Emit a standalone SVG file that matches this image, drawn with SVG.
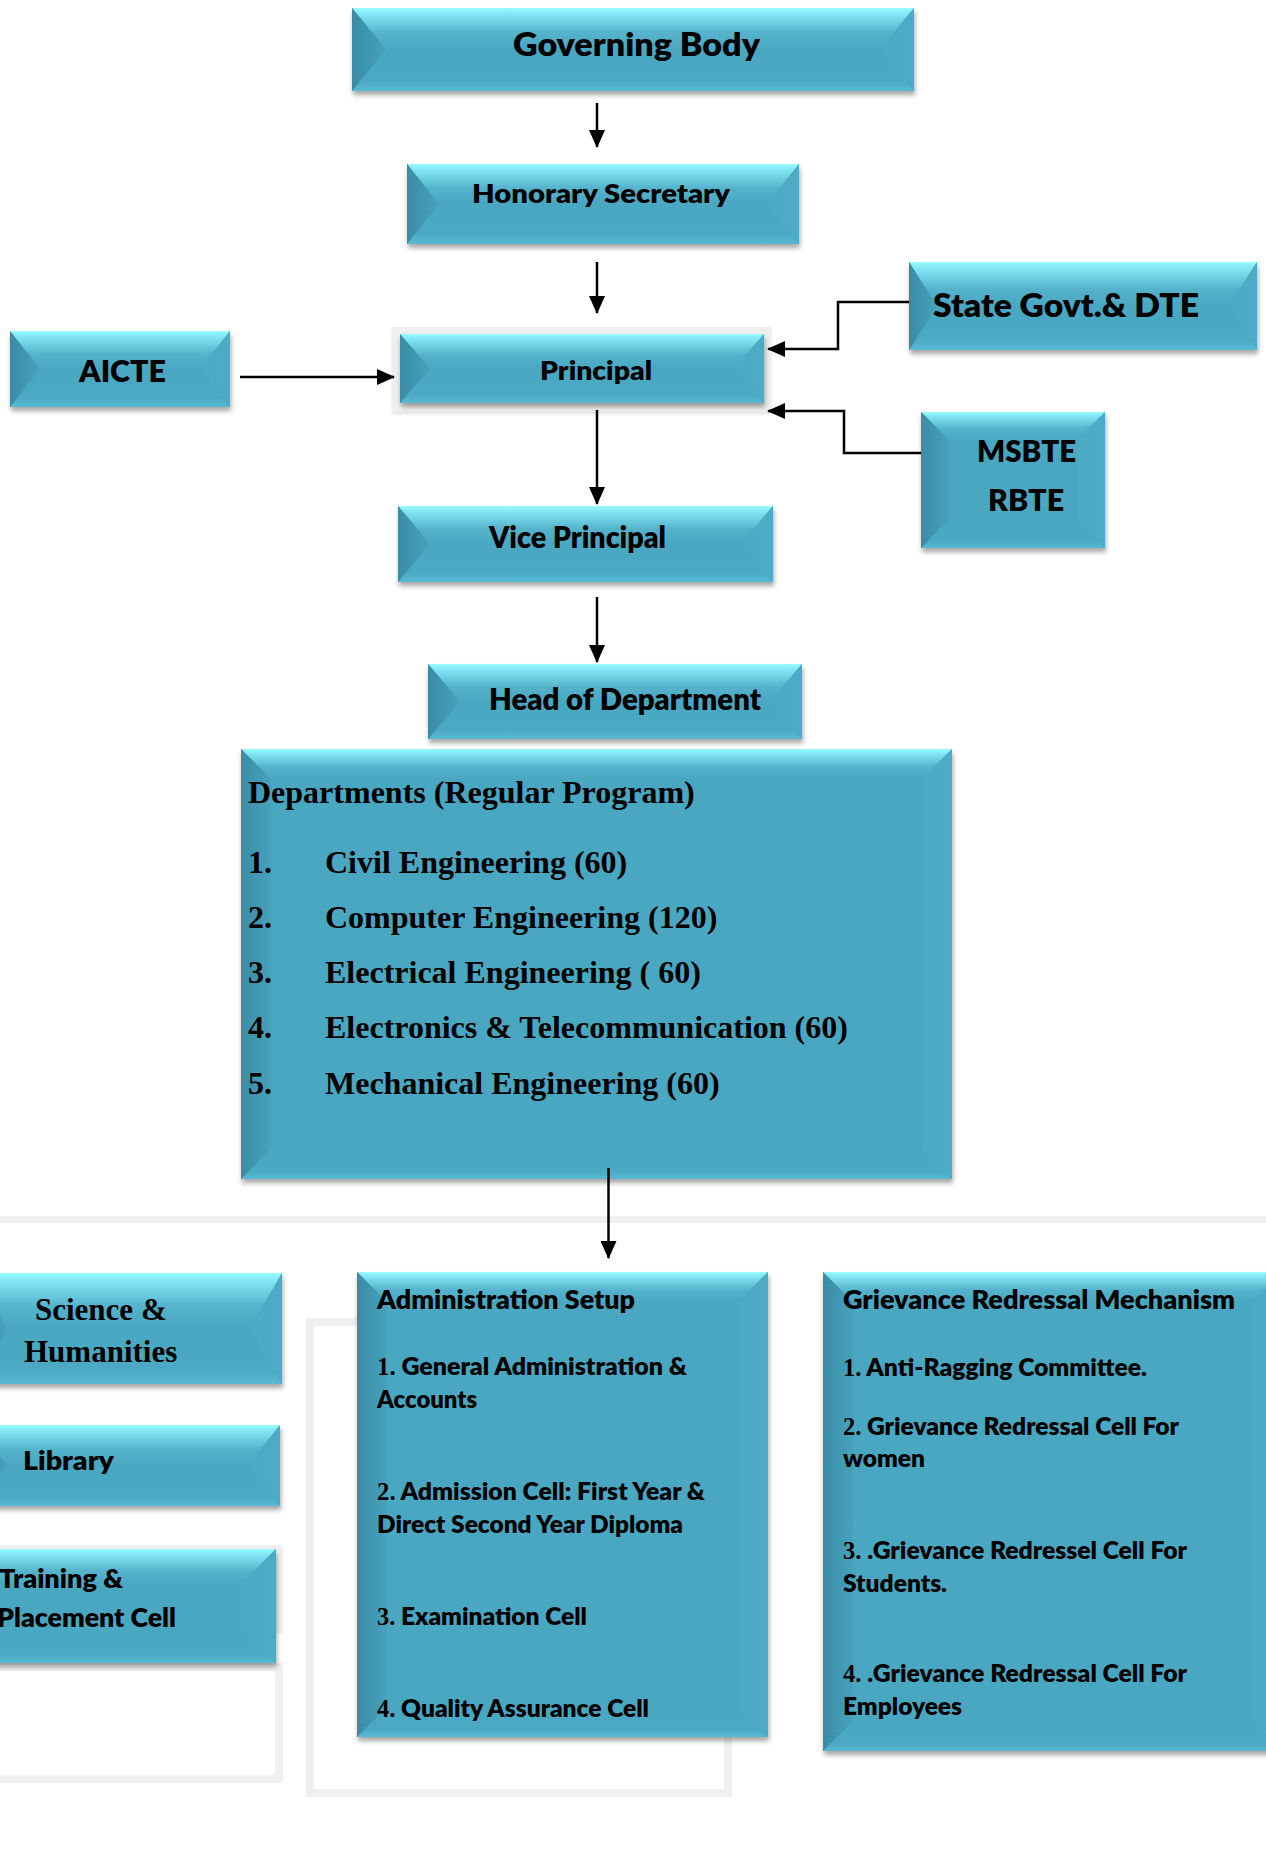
<svg xmlns="http://www.w3.org/2000/svg" width="1266" height="1861" viewBox="0 0 1266 1861">
<defs>
<style>
.face{fill:#4AA7C1}
.bt{fill:url(#gTop)}
.bb{fill:url(#gBot)}
.bl{fill:url(#gLeft)}
.br{fill:url(#gRight)}
.box{filter:url(#sh)}
.t{font-family:Lato,"Open Sans","Liberation Sans",sans-serif;font-weight:800;fill:#000}
.s{font-family:"Liberation Serif","Times New Roman",serif;font-weight:bold;fill:#000}
.gray{fill:#F0F0F0}
.frame{fill:none;stroke:#F0F0F0;stroke-width:8}
</style>
<linearGradient id="gTop" x1="0" y1="0" x2="0" y2="1">
<stop offset="0" stop-color="#98FCFF"/>
<stop offset="0.12" stop-color="#86EAF6"/>
<stop offset="0.6" stop-color="#55B3CC"/>
<stop offset="1" stop-color="#4AA7C1"/>
</linearGradient>
<linearGradient id="gBot" x1="0" y1="0" x2="0" y2="1">
<stop offset="0" stop-color="#4AA7C1"/>
<stop offset="0.75" stop-color="#4BA9C3"/>
<stop offset="1" stop-color="#58BAD3"/>
</linearGradient>
<linearGradient id="gLeft" x1="0" y1="0" x2="1" y2="0">
<stop offset="0" stop-color="#3A8CA5"/>
<stop offset="1" stop-color="#47A2BC"/>
</linearGradient>
<linearGradient id="gRight" x1="0" y1="0" x2="1" y2="0">
<stop offset="0" stop-color="#4CAAC4"/>
<stop offset="1" stop-color="#4DABC5"/>
</linearGradient>
<filter id="sh" x="-10%" y="-15%" width="120%" height="140%">
<feDropShadow dx="1" dy="4" stdDeviation="2.5" flood-color="#000" flood-opacity="0.35"/>
</filter>
<filter id="shl" x="-5%" y="-10%" width="110%" height="130%">
<feDropShadow dx="0" dy="2" stdDeviation="1.5" flood-color="#000" flood-opacity="0.12"/>
</filter>
<marker id="arr" viewBox="0 0 18 16" refX="17" refY="8" markerWidth="18" markerHeight="16" markerUnits="userSpaceOnUse" orient="auto">
<path d="M0,0 L18,8 L0,16 z" fill="#000"/>
</marker>
</defs>
<rect x="0" y="0" width="1266" height="1861" fill="#FFFFFF"/>

<g id="backdrops">
<rect class="gray" x="0" y="1216" width="1266" height="7"/>
<rect class="gray" x="0" y="1545" width="283" height="88"/>
<rect class="frame" x="-10" y="1667" width="289" height="112"/>
<rect class="frame" x="310" y="1322" width="418" height="471"/>
</g>

<g id="governing-body">
<g class="box">
<rect class="face" x="352" y="8" width="562" height="83"/>
<polygon class="bt" points="352,8 914,8 880,49.5 386,49.5"/>
<polygon class="bb" points="352,91 914,91 880,49.5 386,49.5"/>
<polygon class="bl" points="352,8 386,49.5 352,91"/>
<polygon class="br" points="880,49.5 914,8 914,91"/>
</g>
<text class="t" x="513" y="56" font-size="32" textLength="247" lengthAdjust="spacingAndGlyphs">Governing Body</text>
</g>

<g id="honorary-secretary">
<g class="box">
<rect class="face" x="407" y="164" width="392" height="80"/>
<polygon class="bt" points="407,164 799,164 767,204 439,204"/>
<polygon class="bb" points="407,244 799,244 767,204 439,204"/>
<polygon class="bl" points="407,164 439,204 407,244"/>
<polygon class="br" points="767,204 799,164 799,244"/>
</g>
<text class="t" x="472" y="203" font-size="26" textLength="258" lengthAdjust="spacingAndGlyphs">Honorary Secretary</text>
</g>

<g id="principal">
<rect x="392" y="327" width="379" height="85" fill="#EFEFEF" filter="url(#shl)"/>
<g class="box">
<rect class="face" x="400" y="334" width="364" height="69"/>
<polygon class="bt" points="400,334 764,334 734,368.5 430,368.5"/>
<polygon class="bb" points="400,403 764,403 734,368.5 430,368.5"/>
<polygon class="bl" points="400,334 430,368.5 400,403"/>
<polygon class="br" points="734,368.5 764,334 764,403"/>
</g>
<text class="t" x="540" y="380" font-size="26" textLength="112" lengthAdjust="spacingAndGlyphs">Principal</text>
</g>

<g id="aicte">
<g class="box">
<rect class="face" x="10" y="331" width="220" height="76"/>
<polygon class="bt" points="10,331 230,331 200,369 40,369"/>
<polygon class="bb" points="10,407 230,407 200,369 40,369"/>
<polygon class="bl" points="10,331 40,369 10,407"/>
<polygon class="br" points="200,369 230,331 230,407"/>
</g>
<text class="t" x="79" y="382" font-size="30" textLength="87" lengthAdjust="spacingAndGlyphs">AICTE</text>
</g>

<g id="state-govt-dte">
<g class="box">
<rect class="face" x="909" y="262" width="348" height="88"/>
<polygon class="bt" points="909,262 1257,262 1229,306 937,306"/>
<polygon class="bb" points="909,350 1257,350 1229,306 937,306"/>
<polygon class="bl" points="909,262 937,306 909,350"/>
<polygon class="br" points="1229,306 1257,262 1257,350"/>
</g>
<text class="t" x="933" y="317" font-size="32" textLength="266" lengthAdjust="spacingAndGlyphs">State Govt.&amp; DTE</text>
</g>

<g id="msbte-rbte">
<g class="box">
<rect class="face" x="921" y="412" width="184" height="136"/>
<polygon class="bt" points="921,412 1105,412 1077,440 949,440"/>
<polygon class="bb" points="921,548 1105,548 1077,520 949,520"/>
<polygon class="bl" points="921,412 949,440 949,520 921,548"/>
<polygon class="br" points="1077,440 1105,412 1105,548 1077,520"/>
</g>
<text class="t" x="977" y="462" font-size="30.5" textLength="99" lengthAdjust="spacingAndGlyphs">MSBTE</text>
<text class="t" x="988" y="511" font-size="30.5" textLength="76" lengthAdjust="spacingAndGlyphs">RBTE</text>
</g>

<g id="vice-principal">
<g class="box">
<rect class="face" x="398" y="506" width="375" height="76"/>
<polygon class="bt" points="398,506 773,506 741,544 430,544"/>
<polygon class="bb" points="398,582 773,582 741,544 430,544"/>
<polygon class="bl" points="398,506 430,544 398,582"/>
<polygon class="br" points="741,544 773,506 773,582"/>
</g>
<text class="t" x="489" y="548" font-size="30" textLength="177" lengthAdjust="spacingAndGlyphs">Vice Principal</text>
</g>

<g id="head-of-department">
<g class="box">
<rect class="face" x="428" y="664" width="374" height="75"/>
<polygon class="bt" points="428,664 802,664 770,701.5 460,701.5"/>
<polygon class="bb" points="428,739 802,739 770,701.5 460,701.5"/>
<polygon class="bl" points="428,664 460,701.5 428,739"/>
<polygon class="br" points="770,701.5 802,664 802,739"/>
</g>
<text class="t" x="489" y="710" font-size="30" textLength="272" lengthAdjust="spacingAndGlyphs">Head of Department</text>
</g>

<g id="departments">
<g class="box">
<rect class="face" x="241" y="749" width="711" height="430"/>
<polygon class="bt" points="241,749 952,749 922,779 271,779"/>
<polygon class="bb" points="241,1179 952,1179 922,1149 271,1149"/>
<polygon class="bl" points="241,749 271,779 271,1149 241,1179"/>
<polygon class="br" points="922,779 952,749 952,1179 922,1149"/>
</g>
<text class="s" x="248" y="803" font-size="32">Departments (Regular Program)</text>
<text class="s" x="248" y="873" font-size="32">1.</text>
<text class="s" x="325" y="873" font-size="32">Civil Engineering (60)</text>
<text class="s" x="248" y="928" font-size="32">2.</text>
<text class="s" x="325" y="928" font-size="32">Computer Engineering (120)</text>
<text class="s" x="248" y="983" font-size="32">3.</text>
<text class="s" x="325" y="983" font-size="32">Electrical Engineering ( 60)</text>
<text class="s" x="248" y="1038" font-size="32">4.</text>
<text class="s" x="325" y="1038" font-size="32">Electronics &amp; Telecommunication (60)</text>
<text class="s" x="248" y="1094" font-size="32">5.</text>
<text class="s" x="325" y="1094" font-size="32">Mechanical Engineering (60)</text>
</g>

<g id="science-humanities">
<g class="box">
<rect class="face" x="-25" y="1273" width="307" height="111"/>
<polygon class="bt" points="-25,1273 282,1273 250,1328.5 7,1328.5"/>
<polygon class="bb" points="-25,1384 282,1384 250,1328.5 7,1328.5"/>
<polygon class="bl" points="-25,1273 7,1328.5 -25,1384"/>
<polygon class="br" points="250,1328.5 282,1273 282,1384"/>
</g>
<text class="s" x="35" y="1320" font-size="31">Science &amp;</text>
<text class="s" x="24" y="1362" font-size="31">Humanities</text>
</g>

<g id="library">
<g class="box">
<rect class="face" x="-25" y="1425" width="305" height="81"/>
<polygon class="bt" points="-25,1425 280,1425 248,1465.5 7,1465.5"/>
<polygon class="bb" points="-25,1506 280,1506 248,1465.5 7,1465.5"/>
<polygon class="bl" points="-25,1425 7,1465.5 -25,1506"/>
<polygon class="br" points="248,1465.5 280,1425 280,1506"/>
</g>
<text class="t" x="23" y="1470" font-size="26.5" textLength="91" lengthAdjust="spacingAndGlyphs">Library</text>
</g>

<g id="training-placement">
<g class="box">
<rect class="face" x="-40" y="1549" width="316" height="114"/>
<polygon class="bt" points="-40,1549 276,1549 239,1586 -3,1586"/>
<polygon class="bb" points="-40,1663 276,1663 239,1626 -3,1626"/>
<polygon class="bl" points="-40,1549 -3,1586 -3,1626 -40,1663"/>
<polygon class="br" points="239,1586 276,1549 276,1663 239,1626"/>
</g>
<text class="t" x="-1" y="1588" font-size="26.5" textLength="124" lengthAdjust="spacingAndGlyphs">Training &amp;</text>
<text class="t" x="-3" y="1627" font-size="26.5" textLength="179" lengthAdjust="spacingAndGlyphs">Placement Cell</text>
</g>

<g id="administration-setup">
<g class="box">
<rect class="face" x="357" y="1272" width="411" height="465"/>
<polygon class="bt" points="357,1272 768,1272 738,1302 387,1302"/>
<polygon class="bb" points="357,1737 768,1737 738,1707 387,1707"/>
<polygon class="bl" points="357,1272 387,1302 387,1707 357,1737"/>
<polygon class="br" points="738,1302 768,1272 768,1737 738,1707"/>
</g>
<text class="t" x="377" y="1309" font-size="26" textLength="258" lengthAdjust="spacingAndGlyphs">Administration Setup</text>
<text class="t" x="377" y="1375" font-size="25" textLength="310" lengthAdjust="spacingAndGlyphs"><tspan class="s">1.</tspan> General Administration &amp;</text>
<text class="t" x="377" y="1408" font-size="25" textLength="100" lengthAdjust="spacingAndGlyphs">Accounts</text>
<text class="t" x="377" y="1500" font-size="25" textLength="328" lengthAdjust="spacingAndGlyphs"><tspan class="s">2.</tspan> Admission Cell: First Year &amp;</text>
<text class="t" x="377" y="1533" font-size="25" textLength="306" lengthAdjust="spacingAndGlyphs">Direct Second Year Diploma</text>
<text class="t" x="377" y="1625" font-size="25" textLength="210" lengthAdjust="spacingAndGlyphs"><tspan class="s">3.</tspan> Examination Cell</text>
<text class="t" x="377" y="1717" font-size="25" textLength="272" lengthAdjust="spacingAndGlyphs"><tspan class="s">4.</tspan> Quality Assurance Cell</text>
</g>

<g id="grievance-redressal">
<g class="box">
<rect class="face" x="823" y="1272" width="459" height="479"/>
<polygon class="bt" points="823,1272 1282,1272 1252,1302 853,1302"/>
<polygon class="bb" points="823,1751 1282,1751 1252,1721 853,1721"/>
<polygon class="bl" points="823,1272 853,1302 853,1721 823,1751"/>
<polygon class="br" points="1252,1302 1282,1272 1282,1751 1252,1721"/>
</g>
<text class="t" x="843" y="1309" font-size="26" textLength="392" lengthAdjust="spacingAndGlyphs">Grievance Redressal Mechanism</text>
<text class="t" x="843" y="1376" font-size="25" textLength="304" lengthAdjust="spacingAndGlyphs"><tspan class="s">1.</tspan> Anti-Ragging Committee.</text>
<text class="t" x="843" y="1435" font-size="25" textLength="336" lengthAdjust="spacingAndGlyphs"><tspan class="s">2.</tspan> Grievance Redressal Cell For</text>
<text class="t" x="843" y="1467" font-size="25" textLength="82" lengthAdjust="spacingAndGlyphs">women</text>
<text class="t" x="843" y="1559" font-size="25" textLength="344" lengthAdjust="spacingAndGlyphs"><tspan class="s">3.</tspan> .Grievance Redressel Cell For</text>
<text class="t" x="843" y="1592" font-size="25" textLength="104" lengthAdjust="spacingAndGlyphs">Students.</text>
<text class="t" x="843" y="1682" font-size="25" textLength="344" lengthAdjust="spacingAndGlyphs"><tspan class="s">4.</tspan> .Grievance Redressal Cell For</text>
<text class="t" x="843" y="1715" font-size="25" textLength="119" lengthAdjust="spacingAndGlyphs">Employees</text>
</g>

<g id="connectors" fill="none" stroke="#000" stroke-width="2.5" marker-end="url(#arr)">
<path d="M597,103 V147"/>
<path d="M597,262 V313"/>
<path d="M597,410 V504"/>
<path d="M597,597 V662"/>
<path d="M240,377 H394"/>
<path d="M909,302 H838 V349 H768"/>
<path d="M921,453 H844 V411 H768"/>
<path d="M608.5,1168 V1258"/>
</g>
</svg>
